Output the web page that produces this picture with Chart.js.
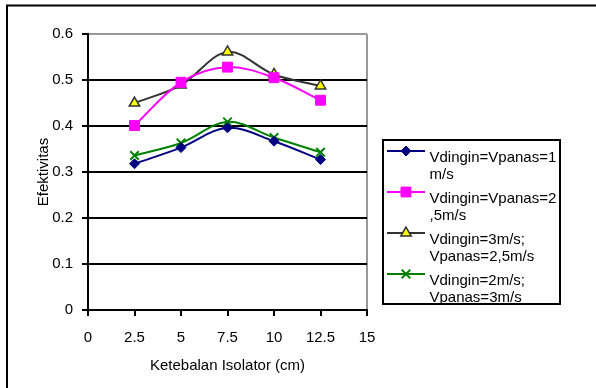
<!DOCTYPE html>
<html>
<head>
<meta charset="utf-8">
<script src="https://cdn.jsdelivr.net/npm/chart.js@4/dist/chart.umd.min.js"></script>
<style>
  html, body { margin: 0; padding: 0; background: #fff; overflow: hidden; }
  #wrap { position: relative; width: 596px; height: 388px; }
</style>
</head>
<body>
<div id="wrap"><canvas id="chart" width="596" height="388"></canvas></div>
<script>
// insulation thickness (cm)
const thickness = [2.5, 5, 7.5, 10, 12.5];

// effectiveness per flow setting
const eff1 = [0.318, 0.353, 0.396, 0.367, 0.327];
const eff2 = [0.401, 0.495, 0.528, 0.505, 0.456];
const eff3 = [0.450, 0.489, 0.561, 0.512, 0.487];
const eff4 = [0.336, 0.363, 0.409, 0.375, 0.343];

// legend names, split into the lines shown in the box
const names = [
  ['Vdingin=Vpanas=1', 'm/s'],
  ['Vdingin=Vpanas=2', ',5m/s'],
  ['Vdingin=3m/s;', 'Vpanas=2,5m/s'],
  ['Vdingin=2m/s;', 'Vpanas=3m/s']
];

const xTicks = [0, 2.5, 5, 7.5, 10, 12.5, 15];
const yTicks = [0, 0.1, 0.2, 0.3, 0.4, 0.5, 0.6];

const FONT = '"Liberation Sans", Arial, sans-serif';
const GRAY = '#999999';

function points(values) {
  return thickness.map((x, i) => ({ x: x, y: values[i] }));
}

// outer frame around the whole figure
const outerFrame = {
  id: 'outerFrame',
  beforeDraw(chart) {
    const ctx = chart.ctx;
    ctx.save();
    ctx.strokeStyle = '#000';
    ctx.lineWidth = 2;
    ctx.strokeRect(7, 5.5, 700, 500);
    ctx.restore();
  }
};

// boxed legend with wrapped labels on the right
const boxLegend = {
  id: 'boxLegend',
  afterDraw(chart) {
    const ctx = chart.ctx;
    ctx.save();
    ctx.fillStyle = '#fff';
    ctx.fillRect(383, 140, 177, 164);
    ctx.strokeStyle = '#000';
    ctx.lineWidth = 2;
    ctx.strokeRect(383, 140, 177, 164);

    chart.data.datasets.forEach((ds, i) => {
      const y = Math.round(150.7 + i * 41.2);
      ctx.strokeStyle = ds.borderColor;
      ctx.lineWidth = 2;
      ctx.beginPath();
      ctx.moveTo(387, y);
      ctx.lineTo(425, y);
      ctx.stroke();

      ctx.fillStyle = ds.pointBackgroundColor;
      ctx.strokeStyle = ds.pointBorderColor;
      ctx.lineWidth = ds.pointBorderWidth;
      Chart.helpers.drawPoint(ctx, {
        pointStyle: ds.pointStyle,
        radius: ds.pointRadius,
        borderWidth: ds.pointBorderWidth,
        rotation: 0
      }, 406, y);

      ctx.fillStyle = '#000';
      ctx.font = '15px ' + FONT;
      ctx.textBaseline = 'alphabetic';
      ctx.textAlign = 'left';
      names[i].forEach((line, k) => {
        ctx.fillText(line, 429.5, y + 11 + k * 16.5);
      });
    });
    ctx.restore();
  }
};

const ctx = document.getElementById('chart').getContext('2d');

new Chart(ctx, {
  type: 'scatter',
  data: {
    datasets: [
      {
        label: names[0].join(''),
        data: points(eff1),
        showLine: true,
        borderColor: '#000080',
        borderWidth: 2,
        pointStyle: 'rectRot',
        pointRadius: 5,
        pointBackgroundColor: '#000080',
        pointBorderColor: '#000080',
        pointBorderWidth: 1
      },
      {
        label: names[1].join(''),
        data: points(eff2),
        showLine: true,
        borderColor: '#ff00ff',
        borderWidth: 2,
        pointStyle: 'rect',
        pointRadius: 7,
        pointBackgroundColor: '#ff00ff',
        pointBorderColor: '#ff00ff',
        pointBorderWidth: 1
      },
      {
        label: names[2].join(''),
        data: points(eff3),
        showLine: true,
        borderColor: '#333333',
        borderWidth: 2,
        pointStyle: 'triangle',
        pointRadius: 6,
        pointBackgroundColor: '#ffff00',
        pointBorderColor: '#333333',
        pointBorderWidth: 1.5
      },
      {
        label: names[3].join(''),
        data: points(eff4),
        showLine: true,
        borderColor: '#008000',
        borderWidth: 2,
        pointStyle: 'crossRot',
        pointRadius: 6,
        pointBackgroundColor: '#008000',
        pointBorderColor: '#008000',
        pointBorderWidth: 2
      }
    ]
  },
  options: {
    responsive: false,
    animation: false,
    events: [],
    elements: { line: { tension: 0.35 } },
    layout: { padding: { left: 0, top: 34, right: 229, bottom: 0 } },
    plugins: {
      legend: { display: false },
      tooltip: { enabled: false }
    },
    scales: {
      x: {
        type: 'linear',
        min: 0,
        max: 15,
        afterBuildTicks: s => { s.ticks = xTicks.map(v => ({ value: v })); },
        afterFit: s => { s.height = 78; },
        ticks: {
          autoSkip: false,
          maxRotation: 0,
          padding: 13,
          color: '#000',
          font: { family: FONT, size: 15 },
          callback: v => String(v)
        },
        grid: {
          color: c => (c.tick && c.tick.value === 15) ? GRAY : 'rgba(0,0,0,0)',
          lineWidth: 2,
          tickColor: '#000',
          tickLength: 6
        },
        border: { color: '#000', width: 2 },
        title: {
          display: true,
          text: 'Ketebalan Isolator (cm)',
          color: '#000',
          font: { family: FONT, size: 15 },
          padding: { top: 0, bottom: 13 }
        }
      },
      y: {
        type: 'linear',
        min: 0,
        max: 0.6,
        afterBuildTicks: s => { s.ticks = yTicks.map(v => ({ value: v })); },
        afterFit: s => { s.width = 88; },
        ticks: {
          padding: 9,
          color: '#000',
          font: { family: FONT, size: 15 },
          callback: v => String(v)
        },
        grid: {
          color: c => (c.tick && c.tick.value === 0.6) ? GRAY : '#000',
          lineWidth: 2,
          tickColor: '#000',
          tickLength: 6
        },
        border: { color: '#000', width: 2 },
        title: {
          display: true,
          text: 'Efektivitas',
          color: '#000',
          font: { family: FONT, size: 15 },
          padding: { top: 35, bottom: 0 }
        }
      }
    }
  },
  plugins: [outerFrame, boxLegend]
});
</script>
</body>
</html>
